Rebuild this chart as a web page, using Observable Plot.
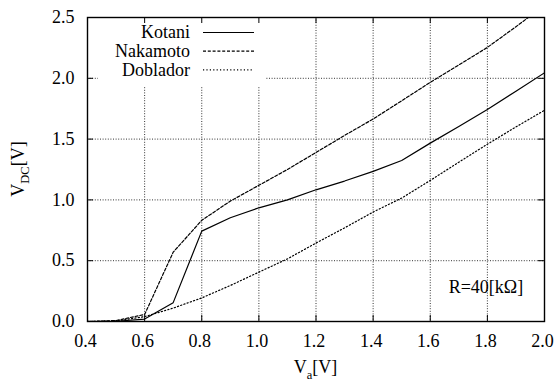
<!DOCTYPE html>
<html>
<head>
<meta charset="utf-8">
<script src="https://cdn.jsdelivr.net/npm/d3@7"></script>
<script src="https://cdn.jsdelivr.net/npm/@observablehq/plot@0.6"></script>
<style>
  body { margin: 0; background: #fff; }
</style>
</head>
<body>
<div id="chart"></div>
<script>
// Input amplitude V_a [V]
const va = [0.4, 0.5, 0.6, 0.7, 0.8, 0.9, 1.0, 1.1, 1.2, 1.3, 1.4, 1.5, 1.6, 1.7, 1.8, 1.9, 2.0];
// Output DC voltage V_DC [V] for each rectifier, R = 40 kΩ
const kotani   = [0, 0.002, 0.02, 0.155, 0.743, 0.853, 0.935, 1.0, 1.083, 1.155, 1.235, 1.324, 1.467, 1.604, 1.743, 1.894, 2.045];
const nakamoto = [0, 0.008, 0.058, 0.57, 0.832, 0.99, 1.12, 1.25, 1.39, 1.53, 1.665, 1.815, 1.967, 2.11, 2.254, 2.424, 2.6];
const doblador = [0, 0.005, 0.04, 0.11, 0.194, 0.296, 0.406, 0.515, 0.645, 0.77, 0.9, 1.015, 1.16, 1.31, 1.458, 1.6, 1.737];

const seriesNames = ["Kotani", "Nakamoto", "Doblador"];
const seriesValues = [kotani, nakamoto, doblador];
const seriesDash = [null, "3,1.8", "1.2,2.2"];

const xTicks = [0.4, 0.6, 0.8, 1.0, 1.2, 1.4, 1.6, 1.8, 2.0];
const yTicks = [0, 0.5, 1.0, 1.5, 2.0, 2.5];
const note = "R=40[kΩ]";

// Layout
const W = 554, H = 381;
const mL = 87, mR = 10, mT = 17, mB = 60;
const innerW = W - mL - mR, innerH = H - mT - mB;
const tickLen = 6;
const serif = "Liberation Serif";

const rows = seriesNames.map((name, i) =>
  va.map((x, j) => ({series: name, va: x, v: seriesValues[i][j]})));

const gridStyle = {stroke: "#333", strokeWidth: 1, strokeDasharray: "1,1.6"};

// White panel behind the key in the upper-left corner
function legendBox(index, scales, values, dims) {
  return d3.create("svg:rect")
    .attr("x", dims.marginLeft + 11).attr("y", dims.marginTop + 1)
    .attr("width", 167).attr("height", 68)
    .attr("fill", "white").node();
}

// Key entries: right-aligned name followed by a line sample
function legendKeys(index, scales, values, dims) {
  const g = d3.create("svg:g");
  seriesNames.forEach((name, i) => {
    const yb = dims.marginTop + 21.3 + i * 18.7;
    g.append("text")
      .attr("x", dims.marginLeft + 103).attr("y", yb)
      .attr("text-anchor", "end").attr("fill", "black")
      .attr("font-family", serif).attr("font-size", 18)
      .text(name);
    const ln = g.append("line")
      .attr("x1", dims.marginLeft + 116).attr("x2", dims.marginLeft + 167)
      .attr("y1", yb - 5.8).attr("y2", yb - 5.8)
      .attr("stroke", "black").attr("stroke-width", 1.2);
    if (seriesDash[i]) ln.attr("stroke-dasharray", seriesDash[i]);
  });
  return g.node();
}

// Axis titles with subscripts
function axisTitles(index, scales, values, dims) {
  const g = d3.create("svg:g").attr("fill", "black");
  const cx = dims.marginLeft + (dims.width - dims.marginLeft - dims.marginRight) / 2;
  const cy = dims.marginTop + (dims.height - dims.marginTop - dims.marginBottom) / 2;
  const tx = g.append("text")
    .attr("x", cx).attr("y", dims.height - 7.7)
    .attr("text-anchor", "middle").attr("font-family", serif).attr("font-size", 18);
  tx.append("tspan").text("V");
  tx.append("tspan").attr("font-size", 12.5).attr("dy", 5.6).text("a");
  tx.append("tspan").attr("dy", -5.6).text("[V]");
  const ty = g.append("text")
    .attr("transform", `translate(23.5,${cy}) rotate(-90)`)
    .attr("text-anchor", "middle").attr("font-family", serif).attr("font-size", 18);
  ty.append("tspan").text("V");
  ty.append("tspan").attr("font-size", 12.5).attr("dy", 5.6).text("DC");
  ty.append("tspan").attr("dy", -5.6).text("[V]");
  return g.node();
}

const fmt = d => d.toFixed(1);

const chart = Plot.plot({
  width: W,
  height: H,
  marginLeft: mL,
  marginRight: mR,
  marginTop: mT,
  marginBottom: mB,
  style: {fontFamily: serif, fontSize: "18px", background: "white", color: "black"},
  x: {domain: [0.4, 2.0]},
  y: {domain: [0, 2.5]},
  marks: [
    Plot.ruleX(xTicks, {x: d => d, ...gridStyle}),
    Plot.ruleY(yTicks, {y: d => d, ...gridStyle}),
    legendBox,
    ...rows.map((data, i) => Plot.line(data, {
      x: "va", y: "v", stroke: "black", strokeWidth: 1.2,
      strokeDasharray: seriesDash[i] ?? undefined, clip: true
    })),
    Plot.frame({stroke: "black", strokeWidth: 1.4}),
    Plot.tickX(xTicks, {x: d => d, insetTop: innerH - tickLen, stroke: "black"}),
    Plot.tickX(xTicks, {x: d => d, insetBottom: innerH - tickLen, stroke: "black"}),
    Plot.tickY(yTicks, {y: d => d, insetRight: innerW - tickLen, stroke: "black"}),
    Plot.tickY(yTicks, {y: d => d, insetLeft: innerW - tickLen, stroke: "black"}),
    Plot.axisX(xTicks, {tickSize: 0, tickPadding: 13, tickFormat: fmt, label: null, fontSize: 18, fontFamily: serif, dx: -2}),
    Plot.axisY(yTicks, {tickSize: 0, tickPadding: 13, tickFormat: fmt, label: null, fontSize: 18, fontFamily: serif}),
    Plot.text([note], {text: d => d, frameAnchor: "bottom-right", dx: -21.3, dy: -28.5, textAnchor: "end", fontSize: 18, fontFamily: serif, fill: "black"}),
    legendKeys,
    axisTitles
  ]
});

document.getElementById("chart").appendChild(chart);
</script>
</body>
</html>
